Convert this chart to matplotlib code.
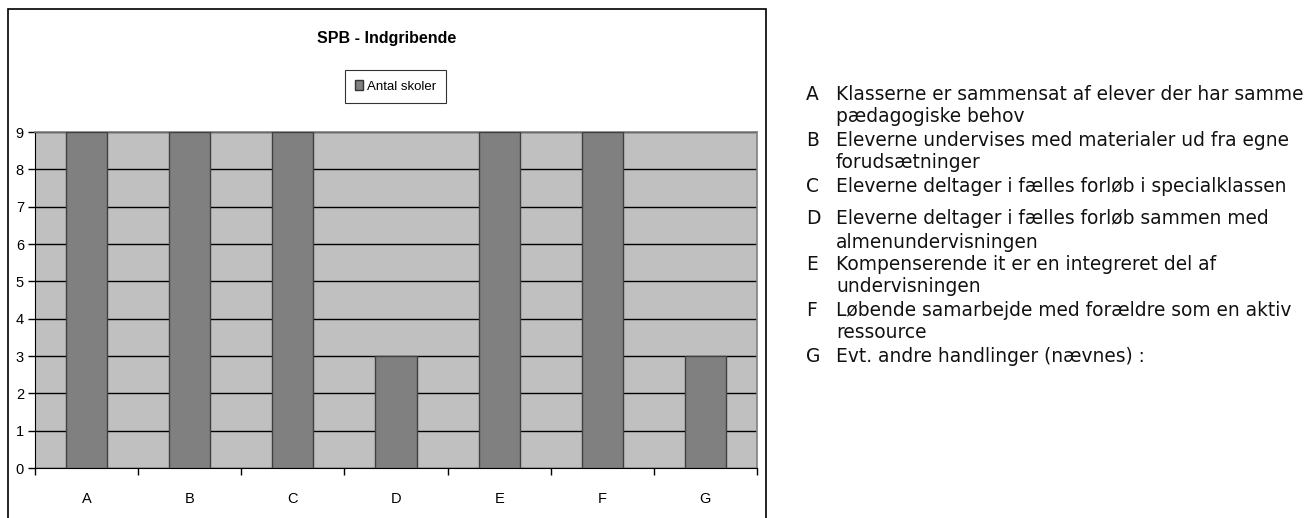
import matplotlib
matplotlib.use("Agg")
import matplotlib.pyplot as plt
from matplotlib.patches import Rectangle
import numpy as np

categories = ["A", "B", "C", "D", "E", "F", "G"]
values = [9, 9, 9, 3, 9, 9, 3]
series_name = "Antal skoler"
title = "SPB - Indgribende"
yticks = list(range(0, 10))
descriptions = [
    ("A", ["Klasserne er sammensat af elever der har samme", "pædagogiske behov"]),
    ("B", ["Eleverne undervises med materialer ud fra egne", "forudsætninger"]),
    ("C", ["Eleverne deltager i fælles forløb i specialklassen"]),
    ("D", ["Eleverne deltager i fælles forløb sammen med", "almenundervisningen"]),
    ("E", ["Kompenserende it er en integreret del af", "undervisningen"]),
    ("F", ["Løbende samarbejde med forældre som en aktiv", "ressource"]),
    ("G", ["Evt. andre handlinger (nævnes) :"]),
]

W, H = 1308, 518
fig = plt.figure(figsize=(W / 100, H / 100), dpi=100)
narrow = ["Liberation Sans Narrow", "Liberation Sans", "DejaVu Sans"]

def fx(px):
    return px / W

def fy(py):
    return 1 - py / H

# chart border (extends below the image)
fig.patches.append(Rectangle((fx(8), fy(540)), fx(766) - fx(8), fy(9) - fy(540),
                             transform=fig.transFigure, fill=False,
                             edgecolor="black", linewidth=1.2))

ax = fig.add_axes([fx(35), fy(468), fx(757) - fx(35), fy(132) - fy(468)])
ax.set_facecolor("#C0C0C0")
x = np.arange(len(categories))
ax.set_axisbelow(True)
ax.yaxis.grid(True, color="black", linewidth=1.0)
ax.bar(x, values, width=0.4, color="#808080", edgecolor="#404040", linewidth=1.0, zorder=3)
ax.set_xlim(-0.5, len(categories) - 0.5)
ax.set_ylim(0, 9)
ax.set_yticks(yticks)
ax.set_yticklabels([str(v) for v in yticks], fontfamily=narrow, fontsize=10.5)
ax.set_xticks(np.arange(len(categories) + 1) - 0.5)
ax.set_xticklabels([])
ax.set_xticks(x, minor=True)
ax.set_xticklabels(categories, minor=True, fontfamily=narrow, fontsize=10.5)
ax.tick_params(axis="x", which="minor", length=0, pad=17)
ax.tick_params(axis="x", which="major", length=5, width=1, color="black", direction="out")
ax.tick_params(axis="y", length=5, width=1, color="black", pad=3)
for s in ["top", "right"]:
    ax.spines[s].set_color("#808080")
    ax.spines[s].set_linewidth(1.2)
ax.spines["left"].set_color("black")
ax.spines["bottom"].set_color("black")

fig.text(fx(387), fy(38), title, ha="center", va="center", fontsize=11.5,
         fontweight="bold", fontfamily=narrow)
leg = ax.legend([Rectangle((0, 0), 1, 1, facecolor="#808080", edgecolor="#333333")],
                [series_name], loc="center", bbox_to_anchor=(fx(395.5), fy(86.5)),
                bbox_transform=fig.transFigure, fancybox=False, frameon=True,
                edgecolor="black", prop={"family": narrow, "size": 9.5},
                handlelength=0.6, handleheight=0.8, handletextpad=0.25,
                borderpad=0.75, borderaxespad=0)
leg.get_frame().set_linewidth(0.8)

# right-hand description list
line_y = [[95, 117], [140, 163], [186], [219, 242], [264, 287], [310, 333], [356]]
for (letter, lines), ys in zip(descriptions, line_y):
    fig.text(fx(806), fy(ys[0]), letter, ha="left", va="center", fontsize=13.4,
             fontfamily="DejaVu Sans", color="#111111")
    for ln, yy in zip(lines, ys):
        fig.text(fx(836), fy(yy), ln, ha="left", va="center", fontsize=13.4,
                 fontfamily="DejaVu Sans", color="#111111")

fig.savefig("out.png", dpi=100)
